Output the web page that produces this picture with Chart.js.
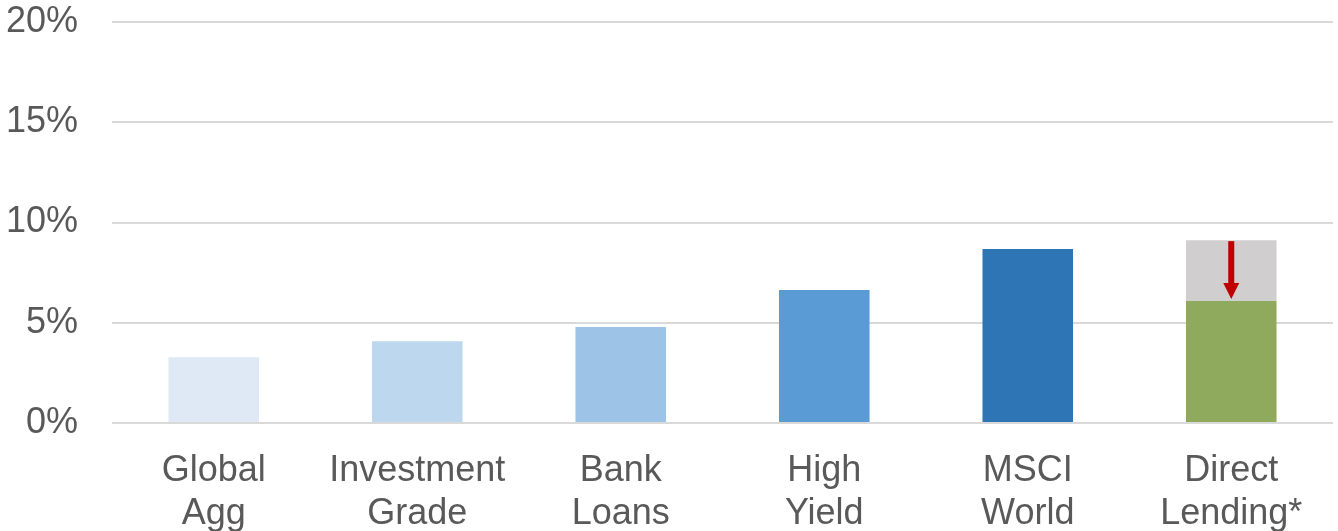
<!DOCTYPE html>
<html>
<head>
<meta charset="utf-8">
<script src="https://cdn.jsdelivr.net/npm/chart.js@4.4.1/dist/chart.umd.min.js"></script>
<style>
  html, body { margin: 0; padding: 0; background: #ffffff; }
  #wrap { width: 1338px; height: 531px; position: relative; }
</style>
</head>
<body>
<div id="wrap"><canvas id="grafico" width="1338" height="531"></canvas></div>
<script>
// dados
const categorias = [['Global', 'Agg'], ['Investment', 'Grade'], ['Bank', 'Loans'], ['High', 'Yield'], ['MSCI', 'World'], ['Direct', 'Lending*']];
const retornos = [3.28, 4.08, 4.79, 6.63, 8.68, 6.08];
const retornoAnterior = [0, 0, 0, 0, 0, 9.12];
const cores = ['#dee9f5', '#bdd7ee', '#9dc3e6', '#5b9bd5', '#2e75b6', '#8faa5c'];
const yTicks = [0, 5, 10, 15, 20];

const diferenca = retornoAnterior.map((v, i) => v > 0 ? v - retornos[i] : 0);

// seta vermelha do valor anterior até o atual
const setaPlugin = {
    id: 'seta',
    afterDatasetsDraw(chart) {
        const ctx = chart.ctx;
        const x = chart.scales.x;
        const y = chart.scales.y;
        retornoAnterior.forEach((v, i) => {
            if (!v) return;
            const cx = x.getPixelForValue(i);
            const y0 = y.getPixelForValue(v) + 1;
            const y1 = y.getPixelForValue(retornos[i]) - 2;
            const cabeca = 16;
            ctx.save();
            ctx.fillStyle = '#c00000';
            ctx.fillRect(cx - 3, y0, 6, y1 - y0 - cabeca);
            ctx.beginPath();
            ctx.moveTo(cx - 8, y1 - cabeca);
            ctx.lineTo(cx + 8, y1 - cabeca);
            ctx.lineTo(cx, y1);
            ctx.closePath();
            ctx.fill();
            ctx.restore();
        });
    }
};

const ctx = document.getElementById('grafico').getContext('2d');
new Chart(ctx, {
    type: 'bar',
    data: {
        labels: categorias,
        datasets: [{
            data: retornos,
            backgroundColor: cores,
            borderWidth: 0,
            categoryPercentage: 1,
            barPercentage: 0.445
        }, {
            data: diferenca,
            backgroundColor: '#d0cece',
            borderWidth: 0,
            categoryPercentage: 1,
            barPercentage: 0.445
        }]
    },
    options: {
        responsive: false,
        animation: false,
        layout: { padding: { top: 22, right: 5, left: 0, bottom: 0 } },
        plugins: {
            legend: { display: false },
            tooltip: { enabled: false }
        },
        scales: {
            x: {
                stacked: true,
                grid: { display: false },
                border: { display: false },
                ticks: {
                    color: '#595959',
                    font: { family: 'Liberation Sans, Arial', size: 36 },
                    padding: 18,
                    maxRotation: 0,
                    autoSkip: false
                },
                afterFit(scale) { scale.height = 108; scale.paddingLeft = 0; scale.paddingRight = 0; }
            },
            y: {
                stacked: true,
                min: 0,
                max: 20,
                afterBuildTicks(scale) { scale.ticks = yTicks.map(v => ({ value: v })); },
                grid: { color: '#d9d9d9', lineWidth: 2, drawTicks: false },
                border: { display: false },
                ticks: {
                    color: '#595959',
                    font: { family: 'Liberation Sans, Arial', size: 36 },
                    padding: 34,
                    callback: (v) => v + '%'
                },
                afterFit(scale) { scale.width = 112; scale.paddingTop = 0; scale.paddingBottom = 0; }
            }
        }
    },
    plugins: [setaPlugin]
});
</script>
</body>
</html>
